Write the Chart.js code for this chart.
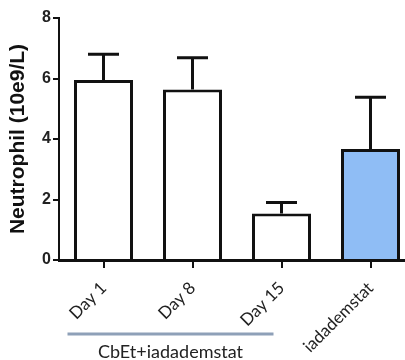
<!DOCTYPE html>
<html>
<head>
<meta charset="utf-8">
<script src="https://cdn.jsdelivr.net/npm/chart.js@4.4.1/dist/chart.umd.min.js"></script>
<style>
  html, body { margin: 0; padding: 0; overflow: hidden; background: #fff; }
  #wrap { width: 405px; height: 360px; overflow: hidden; }
</style>
</head>
<body>
<div id="wrap"><canvas id="neutro" width="420" height="360"></canvas></div>
<script>
const groups = ['Day 1', 'Day 8', 'Day 15', 'iadademstat'];
const means = [5.95, 5.64, 1.54, 3.67];
const sem = [0.85, 1.05, 0.36, 1.71];
const fills = ['#ffffff', '#ffffff', '#ffffff', '#8fbdf5'];
const yTicks = [0, 2, 4, 6, 8];
const groupLabel = 'CbEt+iadademstat';

// upper error bars + group bracket
const extras = {
  id: 'extras',
  afterDatasetsDraw(chart) {
    const ctx = chart.ctx;
    const x = chart.scales.x, y = chart.scales.y;
    ctx.save();
    ctx.strokeStyle = '#111';
    ctx.lineWidth = 3;
    means.forEach((m, i) => {
      const px = x.getPixelForValue(i);
      const top = y.getPixelForValue(m + sem[i]);
      const base = y.getPixelForValue(m);
      ctx.beginPath();
      ctx.moveTo(px, base);
      ctx.lineTo(px, top);
      ctx.moveTo(px - 15.5, top);
      ctx.lineTo(px + 15.5, top);
      ctx.stroke();
    });
    // bracket under the CbEt group
    const x0 = x.getPixelForValue(0) - 36;
    const x1 = x.getPixelForValue(2) - 8;
    ctx.strokeStyle = '#8ea0b8';
    ctx.lineWidth = 3;
    ctx.beginPath();
    ctx.moveTo(x0, 334);
    ctx.lineTo(x1, 334);
    ctx.stroke();
    ctx.fillStyle = '#222';
    ctx.font = '18px Lato';
    ctx.textAlign = 'center';
    ctx.textBaseline = 'middle';
    ctx.fillText(groupLabel, (x0 + x1) / 2, 352);
    ctx.restore();
  }
};

new Chart(document.getElementById('neutro'), {
  type: 'bar',
  data: {
    labels: groups,
    datasets: [{
      data: means,
      backgroundColor: fills,
      borderColor: '#111',
      borderWidth: 3,
      borderSkipped: 'bottom',
      categoryPercentage: 1,
      barPercentage: 0.663
    }]
  },
  options: {
    responsive: false,
    animation: false,
    devicePixelRatio: 1,
    layout: { padding: { top: 18, right: 5, left: 0, bottom: 0 } },
    plugins: { legend: { display: false }, tooltip: { enabled: false } },
    scales: {
      x: {
        z: 1,
        grid: { offset: false, drawOnChartArea: false, color: '#111', lineWidth: 2, tickLength: 8 },
        border: { color: '#111', width: 3 },
        ticks: {
          color: '#222', font: { family: 'Lato', size: 17 },
          minRotation: 45, maxRotation: 45, padding: 10
        },
        afterFit(s) { s.height = 100; }
      },
      y: {
        min: 0, max: 8,
        afterBuildTicks(s) { s.ticks = yTicks.map(v => ({ value: v })); },
        grid: { drawOnChartArea: false, color: '#111', lineWidth: 2, tickLength: 6 },
        border: { color: '#111', width: 2 },
        ticks: { color: '#222', font: { family: 'Liberation Sans', size: 16, weight: 'bold' }, padding: 2 },
        title: {
          display: true, text: 'Neutrophil (10e9/L)', color: '#111',
          font: { family: 'Liberation Sans', size: 21, weight: 'bold' },
          padding: { top: 6, bottom: 0 }
        },
        afterFit(s) { s.width = 59; }
      }
    }
  },
  plugins: [extras]
});
</script>
</body>
</html>
